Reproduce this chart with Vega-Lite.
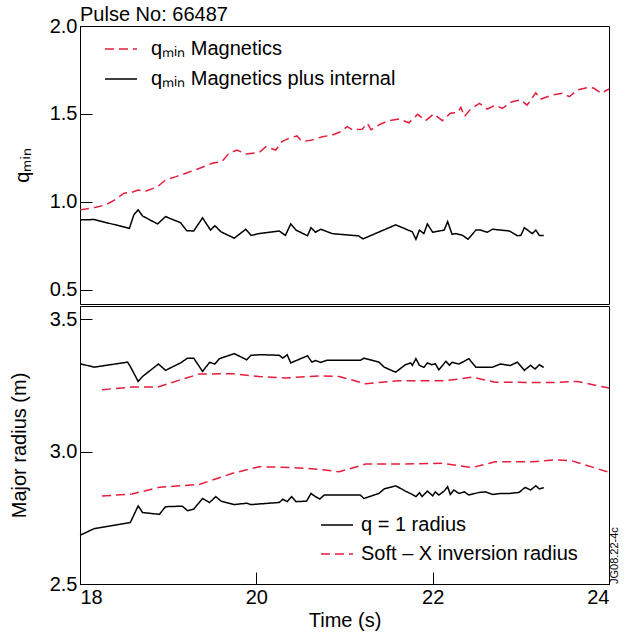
{
  "$schema": "https://vega.github.io/schema/vega-lite/v6.json",
  "autosize": {"type": "pad"},
  "padding": {"left": 8, "top": 4, "right": 5, "bottom": 5},
  "background": "white",
  "spacing": 0,
  "config": {
    "font": "Liberation Sans",
    "view": {"stroke": "black", "strokeWidth": 1},
    "axis": {"labelFontSize": 20, "titleFontSize": 20, "titleFontWeight": "normal", "labelColor": "black", "titleColor": "black", "domainColor": "black", "tickColor": "black", "grid": false, "tickSize": -12, "labelPadding": 15, "labelFont": "Liberation Sans", "titleFont": "Liberation Sans"},
    "legend": {"labelFontSize": 20, "labelFont": "Liberation Sans", "labelColor": "black", "labelLimit": 0}
  },
  "datasets": {
    "top": [
      {"s":"qₘᵢₙ Magnetics","t":18.0,"v":0.955},{"s":"qₘᵢₙ Magnetics","t":18.18,"v":0.97},{"s":"qₘᵢₙ Magnetics","t":18.29,"v":0.983},{"s":"qₘᵢₙ Magnetics","t":18.39,"v":1.01},{"s":"qₘᵢₙ Magnetics","t":18.5,"v":1.05},{"s":"qₘᵢₙ Magnetics","t":18.59,"v":1.055},{"s":"qₘᵢₙ Magnetics","t":18.66,"v":1.068},{"s":"qₘᵢₙ Magnetics","t":18.74,"v":1.06},{"s":"qₘᵢₙ Magnetics","t":18.88,"v":1.087},{"s":"qₘᵢₙ Magnetics","t":18.97,"v":1.125},{"s":"qₘᵢₙ Magnetics","t":19.09,"v":1.144},{"s":"qₘᵢₙ Magnetics","t":19.2,"v":1.163},{"s":"qₘᵢₙ Magnetics","t":19.35,"v":1.19},{"s":"qₘᵢₙ Magnetics","t":19.5,"v":1.22},{"s":"qₘᵢₙ Magnetics","t":19.61,"v":1.229},{"s":"qₘᵢₙ Magnetics","t":19.69,"v":1.277},{"s":"qₘᵢₙ Magnetics","t":19.78,"v":1.295},{"s":"qₘᵢₙ Magnetics","t":19.88,"v":1.273},{"s":"qₘᵢₙ Magnetics","t":20.03,"v":1.28},{"s":"qₘᵢₙ Magnetics","t":20.11,"v":1.314},{"s":"qₘᵢₙ Magnetics","t":20.22,"v":1.295},{"s":"qₘᵢₙ Magnetics","t":20.29,"v":1.343},{"s":"qₘᵢₙ Magnetics","t":20.37,"v":1.362},{"s":"qₘᵢₙ Magnetics","t":20.46,"v":1.375},{"s":"qₘᵢₙ Magnetics","t":20.52,"v":1.343},{"s":"qₘᵢₙ Magnetics","t":20.63,"v":1.352},{"s":"qₘᵢₙ Magnetics","t":20.75,"v":1.371},{"s":"qₘᵢₙ Magnetics","t":20.86,"v":1.38},{"s":"qₘᵢₙ Magnetics","t":20.96,"v":1.4},{"s":"qₘᵢₙ Magnetics","t":21.03,"v":1.428},{"s":"qₘᵢₙ Magnetics","t":21.09,"v":1.41},{"s":"qₘᵢₙ Magnetics","t":21.2,"v":1.413},{"s":"qₘᵢₙ Magnetics","t":21.26,"v":1.447},{"s":"qₘᵢₙ Magnetics","t":21.3,"v":1.41},{"s":"qₘᵢₙ Magnetics","t":21.39,"v":1.438},{"s":"qₘᵢₙ Magnetics","t":21.5,"v":1.462},{"s":"qₘᵢₙ Magnetics","t":21.62,"v":1.472},{"s":"qₘᵢₙ Magnetics","t":21.73,"v":1.45},{"s":"qₘᵢₙ Magnetics","t":21.83,"v":1.498},{"s":"qₘᵢₙ Magnetics","t":21.92,"v":1.462},{"s":"qₘᵢₙ Magnetics","t":22.01,"v":1.5},{"s":"qₘᵢₙ Magnetics","t":22.11,"v":1.462},{"s":"qₘᵢₙ Magnetics","t":22.2,"v":1.504},{"s":"qₘᵢₙ Magnetics","t":22.28,"v":1.508},{"s":"qₘᵢₙ Magnetics","t":22.32,"v":1.538},{"s":"qₘᵢₙ Magnetics","t":22.36,"v":1.485},{"s":"qₘᵢₙ Magnetics","t":22.43,"v":1.528},{"s":"qₘᵢₙ Magnetics","t":22.53,"v":1.56},{"s":"qₘᵢₙ Magnetics","t":22.62,"v":1.528},{"s":"qₘᵢₙ Magnetics","t":22.71,"v":1.55},{"s":"qₘᵢₙ Magnetics","t":22.79,"v":1.532},{"s":"qₘᵢₙ Magnetics","t":22.9,"v":1.57},{"s":"qₘᵢₙ Magnetics","t":23.0,"v":1.58},{"s":"qₘᵢₙ Magnetics","t":23.07,"v":1.55},{"s":"qₘᵢₙ Magnetics","t":23.17,"v":1.62},{"s":"qₘᵢₙ Magnetics","t":23.22,"v":1.584},{"s":"qₘᵢₙ Magnetics","t":23.36,"v":1.608},{"s":"qₘᵢₙ Magnetics","t":23.47,"v":1.618},{"s":"qₘᵢₙ Magnetics","t":23.55,"v":1.598},{"s":"qₘᵢₙ Magnetics","t":23.64,"v":1.636},{"s":"qₘᵢₙ Magnetics","t":23.77,"v":1.652},{"s":"qₘᵢₙ Magnetics","t":23.83,"v":1.646},{"s":"qₘᵢₙ Magnetics","t":23.91,"v":1.618},{"s":"qₘᵢₙ Magnetics","t":24.0,"v":1.642},
      {"s":"qₘᵢₙ Magnetics plus internal","t":18.0,"v":0.898},{"s":"qₘᵢₙ Magnetics plus internal","t":18.16,"v":0.9},{"s":"qₘᵢₙ Magnetics plus internal","t":18.56,"v":0.85},{"s":"qₘᵢₙ Magnetics plus internal","t":18.61,"v":0.926},{"s":"qₘᵢₙ Magnetics plus internal","t":18.66,"v":0.955},{"s":"qₘᵢₙ Magnetics plus internal","t":18.71,"v":0.92},{"s":"qₘᵢₙ Magnetics plus internal","t":18.88,"v":0.875},{"s":"qₘᵢₙ Magnetics plus internal","t":18.97,"v":0.917},{"s":"qₘᵢₙ Magnetics plus internal","t":19.14,"v":0.882},{"s":"qₘᵢₙ Magnetics plus internal","t":19.21,"v":0.837},{"s":"qₘᵢₙ Magnetics plus internal","t":19.29,"v":0.835},{"s":"qₘᵢₙ Magnetics plus internal","t":19.39,"v":0.91},{"s":"qₘᵢₙ Magnetics plus internal","t":19.48,"v":0.84},{"s":"qₘᵢₙ Magnetics plus internal","t":19.53,"v":0.865},{"s":"qₘᵢₙ Magnetics plus internal","t":19.6,"v":0.83},{"s":"qₘᵢₙ Magnetics plus internal","t":19.75,"v":0.794},{"s":"qₘᵢₙ Magnetics plus internal","t":19.88,"v":0.845},{"s":"qₘᵢₙ Magnetics plus internal","t":19.94,"v":0.81},{"s":"qₘᵢₙ Magnetics plus internal","t":20.03,"v":0.82},{"s":"qₘᵢₙ Magnetics plus internal","t":20.26,"v":0.835},{"s":"qₘᵢₙ Magnetics plus internal","t":20.33,"v":0.81},{"s":"qₘᵢₙ Magnetics plus internal","t":20.39,"v":0.875},{"s":"qₘᵢₙ Magnetics plus internal","t":20.45,"v":0.84},{"s":"qₘᵢₙ Magnetics plus internal","t":20.58,"v":0.808},{"s":"qₘᵢₙ Magnetics plus internal","t":20.62,"v":0.854},{"s":"qₘᵢₙ Magnetics plus internal","t":20.67,"v":0.828},{"s":"qₘᵢₙ Magnetics plus internal","t":20.73,"v":0.845},{"s":"qₘᵢₙ Magnetics plus internal","t":20.86,"v":0.82},{"s":"qₘᵢₙ Magnetics plus internal","t":21.16,"v":0.807},{"s":"qₘᵢₙ Magnetics plus internal","t":21.21,"v":0.79},{"s":"qₘᵢₙ Magnetics plus internal","t":21.58,"v":0.87},{"s":"qₘᵢₙ Magnetics plus internal","t":21.77,"v":0.83},{"s":"qₘᵢₙ Magnetics plus internal","t":21.81,"v":0.788},{"s":"qₘᵢₙ Magnetics plus internal","t":21.85,"v":0.84},{"s":"qₘᵢₙ Magnetics plus internal","t":21.9,"v":0.82},{"s":"qₘᵢₙ Magnetics plus internal","t":21.94,"v":0.875},{"s":"qₘᵢₙ Magnetics plus internal","t":22.0,"v":0.828},{"s":"qₘᵢₙ Magnetics plus internal","t":22.13,"v":0.84},{"s":"qₘᵢₙ Magnetics plus internal","t":22.17,"v":0.888},{"s":"qₘᵢₙ Magnetics plus internal","t":22.22,"v":0.816},{"s":"qₘᵢₙ Magnetics plus internal","t":22.26,"v":0.82},{"s":"qₘᵢₙ Magnetics plus internal","t":22.34,"v":0.81},{"s":"qₘᵢₙ Magnetics plus internal","t":22.4,"v":0.788},{"s":"qₘᵢₙ Magnetics plus internal","t":22.49,"v":0.84},{"s":"qₘᵢₙ Magnetics plus internal","t":22.54,"v":0.84},{"s":"qₘᵢₙ Magnetics plus internal","t":22.62,"v":0.828},{"s":"qₘᵢₙ Magnetics plus internal","t":22.68,"v":0.845},{"s":"qₘᵢₙ Magnetics plus internal","t":22.87,"v":0.835},{"s":"qₘᵢₙ Magnetics plus internal","t":22.96,"v":0.808},{"s":"qₘᵢₙ Magnetics plus internal","t":23.0,"v":0.81},{"s":"qₘᵢₙ Magnetics plus internal","t":23.04,"v":0.854},{"s":"qₘᵢₙ Magnetics plus internal","t":23.13,"v":0.82},{"s":"qₘᵢₙ Magnetics plus internal","t":23.17,"v":0.84},{"s":"qₘᵢₙ Magnetics plus internal","t":23.21,"v":0.81},{"s":"qₘᵢₙ Magnetics plus internal","t":23.26,"v":0.81}
    ],
    "bottom": [
      {"s":"q = 1 radius","b":"upper","t":18.0,"v":3.332},{"s":"q = 1 radius","b":"upper","t":18.16,"v":3.319},{"s":"q = 1 radius","b":"upper","t":18.54,"v":3.338},{"s":"q = 1 radius","b":"upper","t":18.57,"v":3.322},{"s":"q = 1 radius","b":"upper","t":18.66,"v":3.265},{"s":"q = 1 radius","b":"upper","t":18.71,"v":3.284},{"s":"q = 1 radius","b":"upper","t":18.89,"v":3.331},{"s":"q = 1 radius","b":"upper","t":18.97,"v":3.307},{"s":"q = 1 radius","b":"upper","t":19.14,"v":3.335},{"s":"q = 1 radius","b":"upper","t":19.22,"v":3.353},{"s":"q = 1 radius","b":"upper","t":19.29,"v":3.353},{"s":"q = 1 radius","b":"upper","t":19.39,"v":3.303},{"s":"q = 1 radius","b":"upper","t":19.47,"v":3.337},{"s":"q = 1 radius","b":"upper","t":19.53,"v":3.331},{"s":"q = 1 radius","b":"upper","t":19.58,"v":3.351},{"s":"q = 1 radius","b":"upper","t":19.75,"v":3.37},{"s":"q = 1 radius","b":"upper","t":19.89,"v":3.347},{"s":"q = 1 radius","b":"upper","t":19.94,"v":3.364},{"s":"q = 1 radius","b":"upper","t":20.05,"v":3.366},{"s":"q = 1 radius","b":"upper","t":20.26,"v":3.364},{"s":"q = 1 radius","b":"upper","t":20.3,"v":3.353},{"s":"q = 1 radius","b":"upper","t":20.35,"v":3.366},{"s":"q = 1 radius","b":"upper","t":20.39,"v":3.335},{"s":"q = 1 radius","b":"upper","t":20.58,"v":3.362},{"s":"q = 1 radius","b":"upper","t":20.63,"v":3.338},{"s":"q = 1 radius","b":"upper","t":20.67,"v":3.344},{"s":"q = 1 radius","b":"upper","t":20.73,"v":3.337},{"s":"q = 1 radius","b":"upper","t":20.8,"v":3.345},{"s":"q = 1 radius","b":"upper","t":21.18,"v":3.345},{"s":"q = 1 radius","b":"upper","t":21.22,"v":3.353},{"s":"q = 1 radius","b":"upper","t":21.39,"v":3.338},{"s":"q = 1 radius","b":"upper","t":21.45,"v":3.319},{"s":"q = 1 radius","b":"upper","t":21.58,"v":3.3},{"s":"q = 1 radius","b":"upper","t":21.69,"v":3.328},{"s":"q = 1 radius","b":"upper","t":21.75,"v":3.335},{"s":"q = 1 radius","b":"upper","t":21.77,"v":3.326},{"s":"q = 1 radius","b":"upper","t":21.81,"v":3.351},{"s":"q = 1 radius","b":"upper","t":21.85,"v":3.326},{"s":"q = 1 radius","b":"upper","t":21.9,"v":3.318},{"s":"q = 1 radius","b":"upper","t":21.94,"v":3.335},{"s":"q = 1 radius","b":"upper","t":21.99,"v":3.328},{"s":"q = 1 radius","b":"upper","t":22.03,"v":3.332},{"s":"q = 1 radius","b":"upper","t":22.07,"v":3.309},{"s":"q = 1 radius","b":"upper","t":22.15,"v":3.341},{"s":"q = 1 radius","b":"upper","t":22.19,"v":3.326},{"s":"q = 1 radius","b":"upper","t":22.22,"v":3.337},{"s":"q = 1 radius","b":"upper","t":22.3,"v":3.331},{"s":"q = 1 radius","b":"upper","t":22.41,"v":3.351},{"s":"q = 1 radius","b":"upper","t":22.49,"v":3.319},{"s":"q = 1 radius","b":"upper","t":22.68,"v":3.319},{"s":"q = 1 radius","b":"upper","t":22.77,"v":3.331},{"s":"q = 1 radius","b":"upper","t":22.88,"v":3.325},{"s":"q = 1 radius","b":"upper","t":22.96,"v":3.338},{"s":"q = 1 radius","b":"upper","t":23.04,"v":3.307},{"s":"q = 1 radius","b":"upper","t":23.11,"v":3.326},{"s":"q = 1 radius","b":"upper","t":23.16,"v":3.312},{"s":"q = 1 radius","b":"upper","t":23.21,"v":3.328},{"s":"q = 1 radius","b":"upper","t":23.26,"v":3.318},
      {"s":"q = 1 radius","b":"lower","t":18.0,"v":2.684},{"s":"q = 1 radius","b":"lower","t":18.16,"v":2.709},{"s":"q = 1 radius","b":"lower","t":18.57,"v":2.732},{"s":"q = 1 radius","b":"lower","t":18.66,"v":2.795},{"s":"q = 1 radius","b":"lower","t":18.71,"v":2.77},{"s":"q = 1 radius","b":"lower","t":18.9,"v":2.763},{"s":"q = 1 radius","b":"lower","t":18.97,"v":2.792},{"s":"q = 1 radius","b":"lower","t":19.16,"v":2.794},{"s":"q = 1 radius","b":"lower","t":19.22,"v":2.777},{"s":"q = 1 radius","b":"lower","t":19.29,"v":2.783},{"s":"q = 1 radius","b":"lower","t":19.39,"v":2.823},{"s":"q = 1 radius","b":"lower","t":19.47,"v":2.808},{"s":"q = 1 radius","b":"lower","t":19.54,"v":2.83},{"s":"q = 1 radius","b":"lower","t":19.6,"v":2.813},{"s":"q = 1 radius","b":"lower","t":19.75,"v":2.8},{"s":"q = 1 radius","b":"lower","t":19.89,"v":2.805},{"s":"q = 1 radius","b":"lower","t":19.94,"v":2.8},{"s":"q = 1 radius","b":"lower","t":20.26,"v":2.808},{"s":"q = 1 radius","b":"lower","t":20.3,"v":2.82},{"s":"q = 1 radius","b":"lower","t":20.35,"v":2.811},{"s":"q = 1 radius","b":"lower","t":20.4,"v":2.83},{"s":"q = 1 radius","b":"lower","t":20.45,"v":2.811},{"s":"q = 1 radius","b":"lower","t":20.57,"v":2.813},{"s":"q = 1 radius","b":"lower","t":20.62,"v":2.842},{"s":"q = 1 radius","b":"lower","t":20.67,"v":2.83},{"s":"q = 1 radius","b":"lower","t":20.72,"v":2.821},{"s":"q = 1 radius","b":"lower","t":20.77,"v":2.836},{"s":"q = 1 radius","b":"lower","t":21.18,"v":2.836},{"s":"q = 1 radius","b":"lower","t":21.22,"v":2.823},{"s":"q = 1 radius","b":"lower","t":21.39,"v":2.842},{"s":"q = 1 radius","b":"lower","t":21.45,"v":2.859},{"s":"q = 1 radius","b":"lower","t":21.58,"v":2.871},{"s":"q = 1 radius","b":"lower","t":21.69,"v":2.851},{"s":"q = 1 radius","b":"lower","t":21.77,"v":2.838},{"s":"q = 1 radius","b":"lower","t":21.81,"v":2.83},{"s":"q = 1 radius","b":"lower","t":21.85,"v":2.845},{"s":"q = 1 radius","b":"lower","t":21.88,"v":2.83},{"s":"q = 1 radius","b":"lower","t":21.94,"v":2.851},{"s":"q = 1 radius","b":"lower","t":22.0,"v":2.833},{"s":"q = 1 radius","b":"lower","t":22.03,"v":2.848},{"s":"q = 1 radius","b":"lower","t":22.07,"v":2.836},{"s":"q = 1 radius","b":"lower","t":22.13,"v":2.851},{"s":"q = 1 radius","b":"lower","t":22.17,"v":2.867},{"s":"q = 1 radius","b":"lower","t":22.2,"v":2.838},{"s":"q = 1 radius","b":"lower","t":22.24,"v":2.855},{"s":"q = 1 radius","b":"lower","t":22.3,"v":2.842},{"s":"q = 1 radius","b":"lower","t":22.36,"v":2.848},{"s":"q = 1 radius","b":"lower","t":22.41,"v":2.836},{"s":"q = 1 radius","b":"lower","t":22.53,"v":2.846},{"s":"q = 1 radius","b":"lower","t":22.6,"v":2.848},{"s":"q = 1 radius","b":"lower","t":22.68,"v":2.838},{"s":"q = 1 radius","b":"lower","t":22.77,"v":2.842},{"s":"q = 1 radius","b":"lower","t":22.87,"v":2.842},{"s":"q = 1 radius","b":"lower","t":22.98,"v":2.846},{"s":"q = 1 radius","b":"lower","t":23.05,"v":2.865},{"s":"q = 1 radius","b":"lower","t":23.11,"v":2.855},{"s":"q = 1 radius","b":"lower","t":23.17,"v":2.871},{"s":"q = 1 radius","b":"lower","t":23.21,"v":2.859},{"s":"q = 1 radius","b":"lower","t":23.26,"v":2.864},
      {"s":"Soft – X inversion radius","b":"upper","t":18.25,"v":3.234},{"s":"Soft – X inversion radius","b":"upper","t":18.59,"v":3.244},{"s":"Soft – X inversion radius","b":"upper","t":18.88,"v":3.244},{"s":"Soft – X inversion radius","b":"upper","t":19.12,"v":3.269},{"s":"Soft – X inversion radius","b":"upper","t":19.35,"v":3.293},{"s":"Soft – X inversion radius","b":"upper","t":19.73,"v":3.294},{"s":"Soft – X inversion radius","b":"upper","t":20.03,"v":3.284},{"s":"Soft – X inversion radius","b":"upper","t":20.33,"v":3.278},{"s":"Soft – X inversion radius","b":"upper","t":20.71,"v":3.286},{"s":"Soft – X inversion radius","b":"upper","t":20.94,"v":3.284},{"s":"Soft – X inversion radius","b":"upper","t":21.24,"v":3.256},{"s":"Soft – X inversion radius","b":"upper","t":21.62,"v":3.268},{"s":"Soft – X inversion radius","b":"upper","t":22.15,"v":3.268},{"s":"Soft – X inversion radius","b":"upper","t":22.45,"v":3.281},{"s":"Soft – X inversion radius","b":"upper","t":22.71,"v":3.262},{"s":"Soft – X inversion radius","b":"upper","t":23.36,"v":3.261},{"s":"Soft – X inversion radius","b":"upper","t":23.64,"v":3.265},{"s":"Soft – X inversion radius","b":"upper","t":24.0,"v":3.24},
      {"s":"Soft – X inversion radius","b":"lower","t":18.25,"v":2.832},{"s":"Soft – X inversion radius","b":"lower","t":18.59,"v":2.84},{"s":"Soft – X inversion radius","b":"lower","t":18.9,"v":2.865},{"s":"Soft – X inversion radius","b":"lower","t":19.35,"v":2.876},{"s":"Soft – X inversion radius","b":"lower","t":19.73,"v":2.918},{"s":"Soft – X inversion radius","b":"lower","t":20.03,"v":2.943},{"s":"Soft – X inversion radius","b":"lower","t":20.41,"v":2.94},{"s":"Soft – X inversion radius","b":"lower","t":20.71,"v":2.933},{"s":"Soft – X inversion radius","b":"lower","t":20.94,"v":2.924},{"s":"Soft – X inversion radius","b":"lower","t":21.24,"v":2.953},{"s":"Soft – X inversion radius","b":"lower","t":21.62,"v":2.953},{"s":"Soft – X inversion radius","b":"lower","t":22.11,"v":2.956},{"s":"Soft – X inversion radius","b":"lower","t":22.45,"v":2.94},{"s":"Soft – X inversion radius","b":"lower","t":22.71,"v":2.962},{"s":"Soft – X inversion radius","b":"lower","t":23.13,"v":2.962},{"s":"Soft – X inversion radius","b":"lower","t":23.39,"v":2.969},{"s":"Soft – X inversion radius","b":"lower","t":23.58,"v":2.965},{"s":"Soft – X inversion radius","b":"lower","t":24.0,"v":2.922}
    ]
  },
  "vconcat": [
    {
      "width": 529,
      "height": 278,
      "title": {"text": "Pulse No: 66487", "anchor": "start", "frame": "group", "fontSize": 20, "fontWeight": "normal", "font": "Liberation Sans", "color": "black", "offset": -9},
      "data": {"name": "top"},
      "mark": {"type": "line", "strokeWidth": 1.5},
      "encoding": {
        "x": {"field": "t", "type": "quantitative", "scale": {"domain": [18, 24], "nice": false, "zero": false}, "axis": null},
        "y": {"field": "v", "type": "quantitative", "scale": {"domain": [0.42, 2.0], "nice": false, "zero": false}, "axis": {"title": "qₘᵢₙ", "values": [0.5, 1, 1.5, 2], "format": ".1f", "titlePadding": 17}},
        "color": {"field": "s", "type": "nominal", "scale": {"domain": ["qₘᵢₙ Magnetics", "qₘᵢₙ Magnetics plus internal"], "range": ["#e41e3c", "#000000"]},
          "legend": {"orient": "none", "legendX": 24, "legendY": 6, "title": null, "symbolType": "stroke", "symbolSize": 1024, "symbolStrokeWidth": 1.5, "labelOffset": 13, "rowPadding": 3, "padding": 0}},
        "strokeDash": {"field": "s", "type": "nominal", "scale": {"domain": ["qₘᵢₙ Magnetics", "qₘᵢₙ Magnetics plus internal"], "range": [[9, 5], [1, 0]]},
          "legend": {"orient": "none", "legendX": 24, "legendY": 6, "title": null, "symbolType": "stroke", "symbolSize": 1024, "symbolStrokeWidth": 1.5, "labelOffset": 13, "rowPadding": 3, "padding": 0}}
      }
    },
    {
      "width": 529,
      "height": 278,
      "layer": [
        {
          "data": {"name": "bottom"},
          "mark": {"type": "line", "strokeWidth": 1.5},
          "encoding": {
            "x": {"field": "t", "type": "quantitative", "scale": {"domain": [18, 24], "nice": false, "zero": false}, "axis": {"title": "Time (s)", "values": [18, 20, 22, 24], "format": "d", "titlePadding": 3}},
            "y": {"field": "v", "type": "quantitative", "scale": {"domain": [2.5, 3.55], "nice": false, "zero": false}, "axis": {"title": "Major radius (m)", "values": [2.5, 3.0, 3.5], "format": ".1f", "titlePadding": 20}},
            "detail": {"field": "b", "type": "nominal"},
            "color": {"field": "s", "type": "nominal", "scale": {"domain": ["q = 1 radius", "Soft – X inversion radius"], "range": ["#000000", "#e41e3c"]},
              "legend": {"orient": "none", "legendX": 240, "legendY": 202, "title": null, "symbolType": "stroke", "symbolSize": 1024, "symbolStrokeWidth": 1.5, "labelOffset": 7, "rowPadding": 2, "padding": 0}},
            "strokeDash": {"field": "s", "type": "nominal", "scale": {"domain": ["q = 1 radius", "Soft – X inversion radius"], "range": [[1, 0], [9, 5]]},
              "legend": {"orient": "none", "legendX": 240, "legendY": 202, "title": null, "symbolType": "stroke", "symbolSize": 1024, "symbolStrokeWidth": 1.5, "labelOffset": 7, "rowPadding": 2, "padding": 0}}
          }
        },
        {
          "data": {"values": [{"label": "JG08.22-4c"}]},
          "mark": {"type": "text", "angle": 270, "align": "left", "baseline": "bottom", "fontSize": 11, "font": "Liberation Sans", "color": "black"},
          "encoding": {
            "x": {"datum": 24.12, "type": "quantitative"},
            "y": {"datum": 2.5, "type": "quantitative"},
            "text": {"field": "label"}
          }
        }
      ]
    }
  ],
  "resolve": {
    "scale": {"y": "independent", "color": "independent", "strokeDash": "independent"},
    "legend": {"color": "independent", "strokeDash": "independent"}
  }
}
